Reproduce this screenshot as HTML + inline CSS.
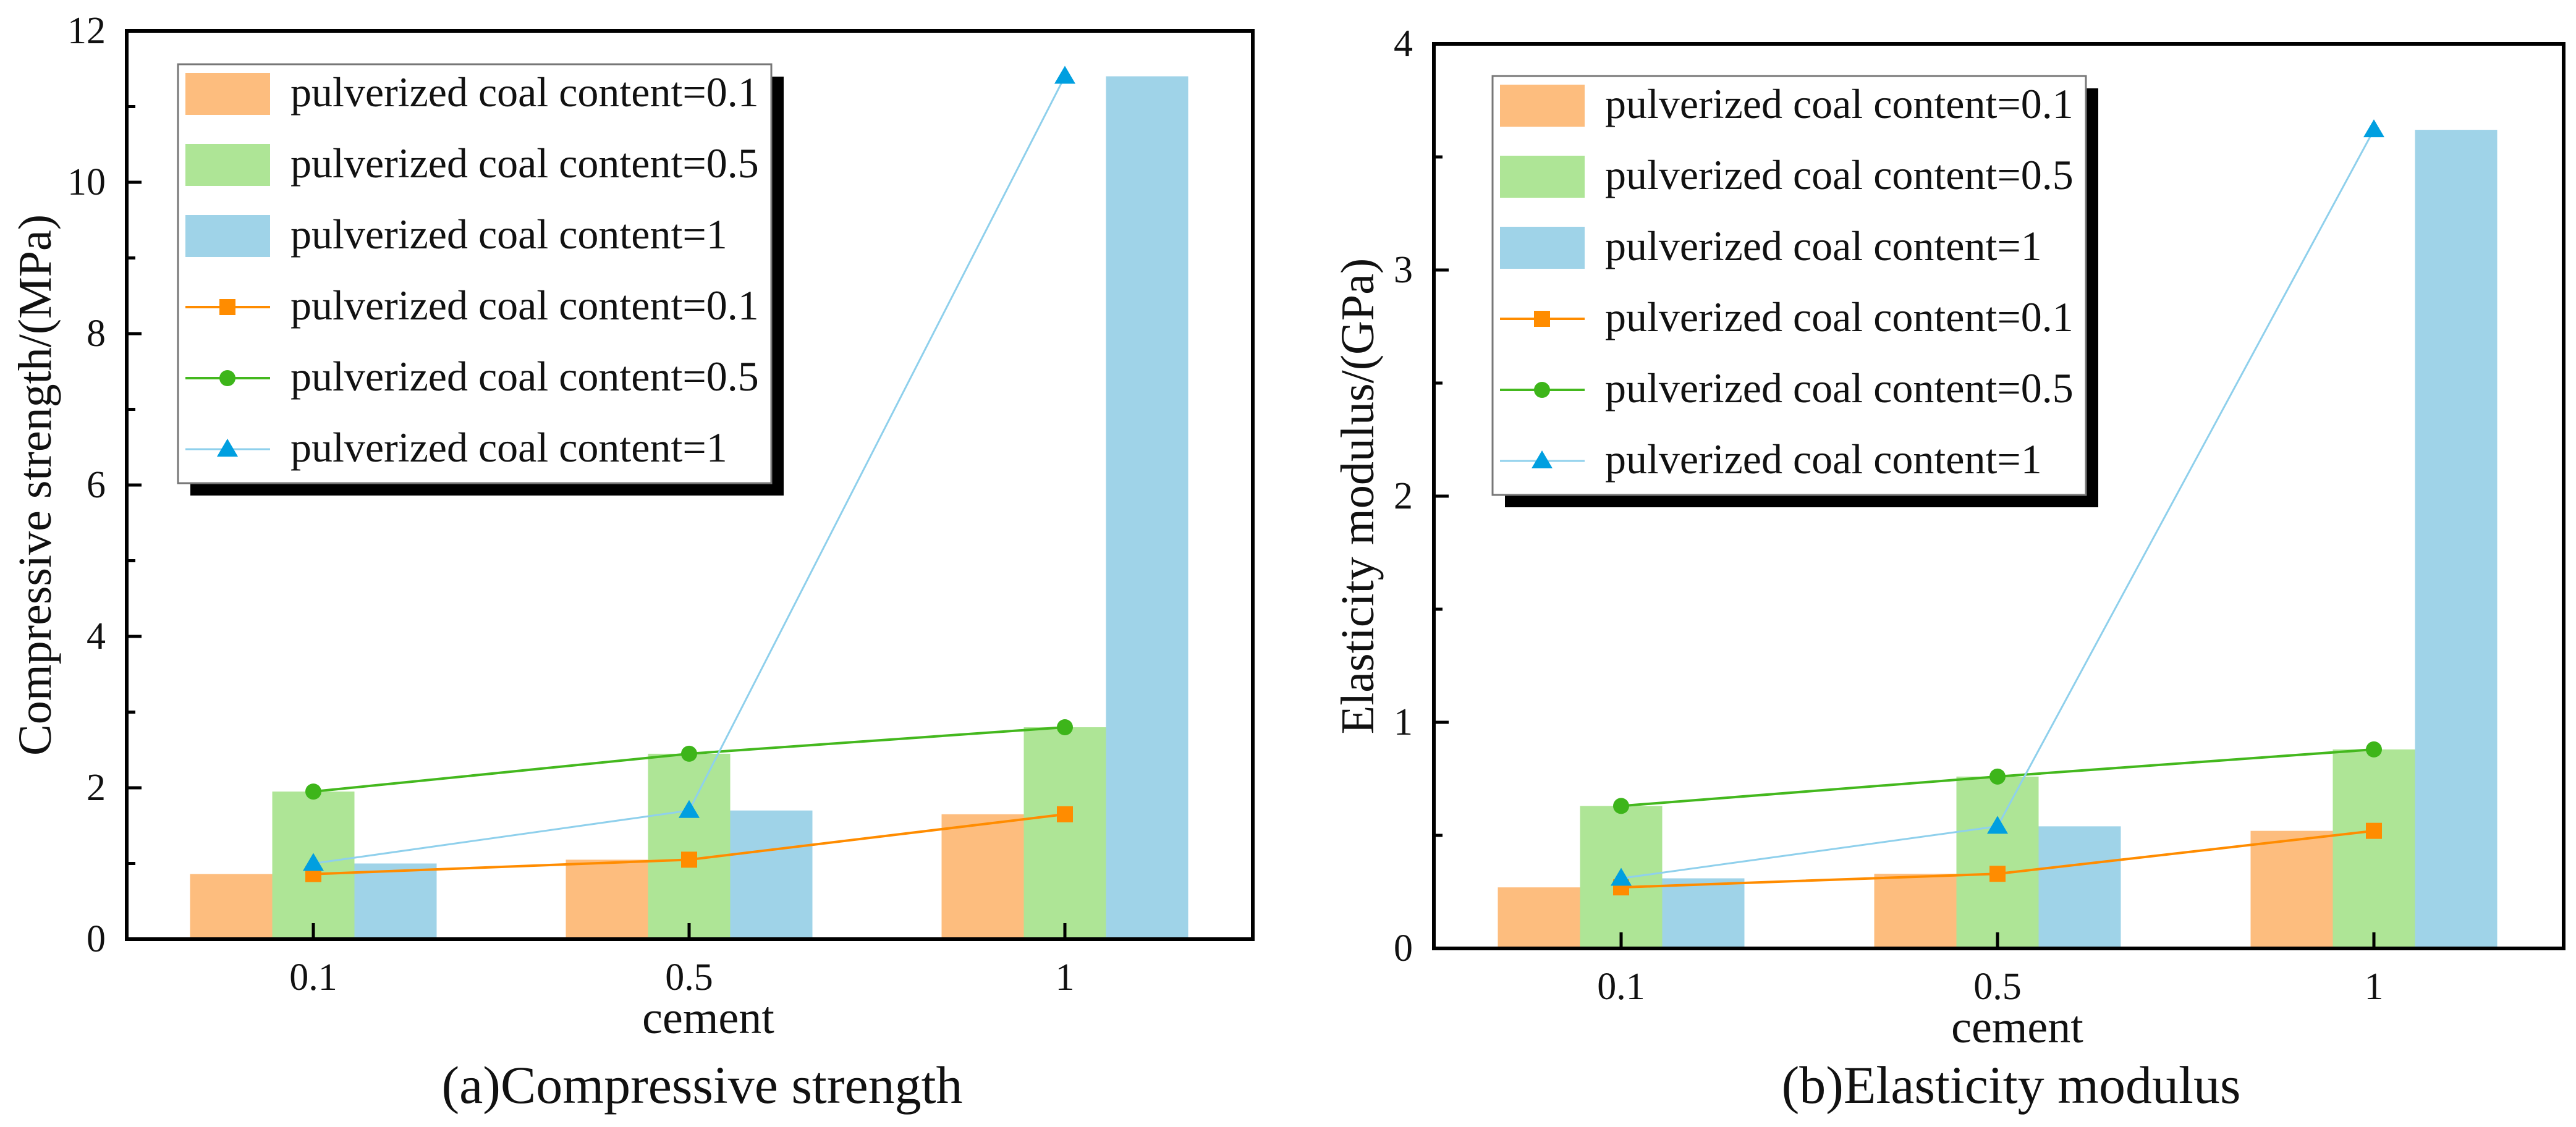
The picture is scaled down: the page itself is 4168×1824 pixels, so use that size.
<!DOCTYPE html>
<html><head><meta charset="utf-8"><style>
html,body{margin:0;padding:0;background:#fff;}
svg{display:block;}
svg text{font-family:"Liberation Serif","DejaVu Serif",serif;}
</style></head><body>
<svg id="root" width="4168" height="1824" viewBox="0 0 4168 1824"></svg>
<script>
const categories = ["0.1", "0.5", "1"];
const seriesNames = ["pulverized coal content=0.1", "pulverized coal content=0.5", "pulverized coal content=1"];
const strength01 = [0.86, 1.05, 1.65];
const strength05 = [1.95, 2.45, 2.80];
const strength1 = [1.00, 1.70, 11.40];
const strengthTicks = [0, 2, 4, 6, 8, 10, 12];
const modulus01 = [0.27, 0.33, 0.52];
const modulus05 = [0.63, 0.76, 0.88];
const modulus1 = [0.31, 0.54, 3.62];
const modulusTicks = [0, 1, 2, 3, 4];

const NS = "http://www.w3.org/2000/svg";
const root = document.getElementById("root");
const FONT = '"Liberation Serif", "DejaVu Serif", serif';
const barColors = ["#FDBD7E", "#AEE596", "#9FD3E8"];
const lineColors = ["#FF8C00", "#44B81E", "#8FD0EC"];
const markColors = ["#FF8C00", "#3DB51A", "#009FE0"];

function mk(tag, attrs, parent) {
  const e = document.createElementNS(NS, tag);
  for (const k in attrs) e.setAttribute(k, attrs[k]);
  if (tag === "text") e.setAttribute("font-family", FONT);
  parent.appendChild(e);
  return e;
}
function marker(g, type, cx, cy, color) {
  let m;
  if (type === 0) m = mk("rect", {x: cx - 13, y: cy - 13, width: 26, height: 26, fill: color}, g);
  else if (type === 1) m = mk("circle", {cx: cx, cy: cy, r: 13, fill: color}, g);
  else m = mk("polygon", {points: (cx) + "," + (cy - 17) + " " + (cx - 17) + "," + (cy + 12) + " " + (cx + 17) + "," + (cy + 12), fill: color}, g);
  return m;
}

function drawChart(cfg) {
  const g = mk("g", {}, root);
  
  
  const L = cfg.left, R = cfg.right, T = cfg.top, B = cfg.bottom;
  const maxV = cfg.ticks[cfg.ticks.length - 1];
  const y = v => B - v / maxV * (B - T);
  const cx0 = cfg.cat0, step = cfg.step;
  const x = i => cx0 + i * step;
  const bw = 133;
  cfg.series.forEach((vals, s) => {
    vals.forEach((v, i) => {
      const r = mk("rect", {x: x(i) + (s - 1) * bw - bw / 2, y: y(v), width: bw, height: B - y(v), fill: barColors[s]}, g);
      
      
    });
  });
  cfg.series.forEach((vals, s) => {
    const pts = vals.map((v, i) => x(i) + "," + y(v)).join(" ");
    const pl = mk("polyline", {points: pts, fill: "none", stroke: lineColors[s], "stroke-width": s === 2 ? 3 : 4}, g);
    
    
    vals.forEach((v, i) => {
      const m = marker(g, s, x(i), y(v), markColors[s]);
      
      
    });
  });
  const fr = mk("rect", {x: L, y: T, width: R - L, height: B - T, fill: "none", stroke: "#000", "stroke-width": 6}, g);
  
  
  cfg.ticks.forEach((t, k) => {
    const ty = y(t);
    const tk = mk("line", {x1: L, x2: L + 24, y1: ty, y2: ty, stroke: "#000", "stroke-width": 5}, g);
    
    
    if (k < cfg.ticks.length - 1) {
      const my = y(t + (cfg.ticks[1] - cfg.ticks[0]) / 2);
      const mt = mk("line", {x1: L, x2: L + 14, y1: my, y2: my, stroke: "#000", "stroke-width": 5}, g);
      
      
    }
    const tl = mk("text", {x: L - 34, y: ty + 20, "text-anchor": "end", "font-size": 62, fill: "#111"}, g);
    tl.textContent = t;
    
    
  });
  categories.forEach((c, i) => {
    const tk = mk("line", {x1: x(i), x2: x(i), y1: B, y2: B - 26, stroke: "#000", "stroke-width": 5}, g);
    
    
    const tl = mk("text", {x: x(i), y: B + 82, "text-anchor": "middle", "font-size": 62, fill: "#111"}, g);
    tl.textContent = c;
    
    
  });
  const xt = mk("text", {x: (L + R) / 2 + 30, y: B + 152, "text-anchor": "middle", "font-size": 74, fill: "#111"}, g);
  xt.textContent = "cement";
  
  
  const yt = mk("text", {x: 0, y: 0, "text-anchor": "middle", "font-size": 76, fill: "#111", transform: "translate(" + cfg.ytx + "," + ((T + B) / 2) + ") rotate(-90)"}, g);
  yt.textContent = cfg.ytitle;
  
  
  const cap = mk("text", {x: (L + R) / 2 + 20, y: cfg.capY, "text-anchor": "middle", "font-size": 86, fill: "#111"}, g);
  cap.textContent = cfg.caption;
  
  
  const lg = mk("g", {}, g);
  
  
  const lx = cfg.legX, ly = cfg.legY, lw = 960, lh = 678;
  mk("rect", {x: lx + 20, y: ly + 20, width: lw, height: lh, fill: "#000"}, lg);
  mk("rect", {x: lx, y: ly, width: lw, height: lh, fill: "#fff", stroke: "#777", "stroke-width": 3}, lg);
  for (let r = 0; r < 6; r++) {
    const cy = ly + 48 + r * 115;
    const s = r % 3;
    const ent = mk("g", {}, lg);
    
    
    if (r < 3) {
      mk("rect", {x: lx + 12, y: cy - 34, width: 137, height: 68, fill: barColors[s]}, ent);
    } else {
      mk("line", {x1: lx + 12, x2: lx + 149, y1: cy, y2: cy, stroke: lineColors[s], "stroke-width": s === 2 ? 3 : 4}, ent);
      marker(ent, s, lx + 80, cy, markColors[s]);
    }
    const t = mk("text", {x: lx + 182, y: cy + 20, "font-size": 68, fill: "#111"}, ent);
    t.textContent = seriesNames[s];
  }
}

drawChart({name: "compressive-strength-chart", short: "cs", left: 205, right: 2027, top: 50, bottom: 1520,
  cat0: 507, step: 608, ticks: strengthTicks, series: [strength01, strength05, strength1],
  ytitle: "Compressive strength/(MPa)", ytx: 82, caption: "(a)Compressive strength", capY: 1785,
  legX: 288, legY: 104});
drawChart({name: "elasticity-modulus-chart", short: "em", left: 2320, right: 4148, top: 71, bottom: 1535,
  cat0: 2623, step: 609, ticks: modulusTicks, series: [modulus01, modulus05, modulus1],
  ytitle: "Elasticity modulus/(GPa)", ytx: 2222, caption: "(b)Elasticity modulus", capY: 1785,
  legX: 2415, legY: 123});
</script>
</body></html>
